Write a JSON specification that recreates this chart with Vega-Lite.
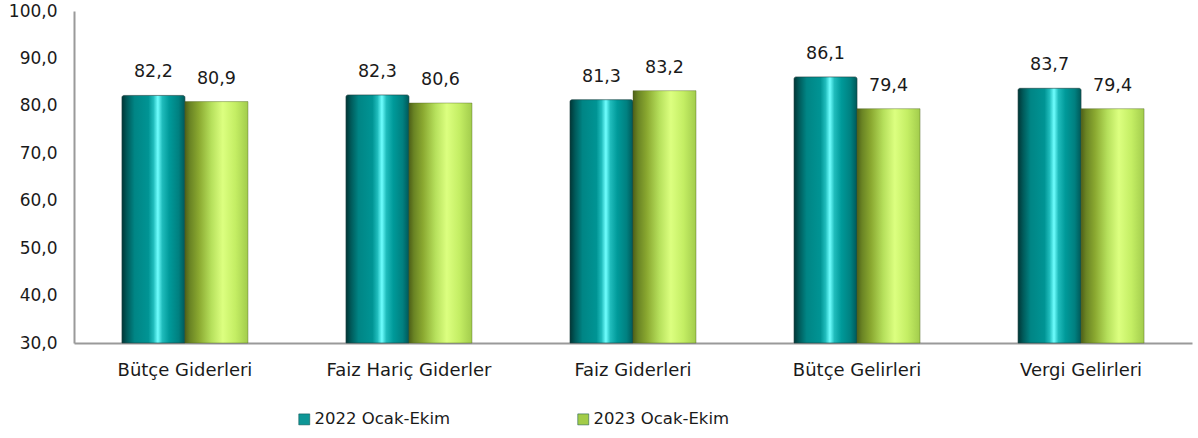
{
  "$schema": "https://vega.github.io/schema/vega-lite/v6.json",
  "autosize": {"type": "none"},
  "width": 1118,
  "height": 332,
  "padding": {"left": 74, "top": 11, "right": 6, "bottom": 95},
  "background": "white",
  "config": {
    "locale": {"number": {"decimal": ",", "thousands": ".", "grouping": [3], "currency": ["", " TL"]}},
    "view": {"stroke": null},
    "font": "DejaVu Sans",
    "text": {"font": "DejaVu Sans"}
  },
  "data": {
    "values": [
      {"kalem": "Bütçe Giderleri", "donem": "2022 Ocak-Ekim", "deger": 82.2},
      {"kalem": "Bütçe Giderleri", "donem": "2023 Ocak-Ekim", "deger": 80.9},
      {"kalem": "Faiz Hariç Giderler", "donem": "2022 Ocak-Ekim", "deger": 82.3},
      {"kalem": "Faiz Hariç Giderler", "donem": "2023 Ocak-Ekim", "deger": 80.6},
      {"kalem": "Faiz Giderleri", "donem": "2022 Ocak-Ekim", "deger": 81.3},
      {"kalem": "Faiz Giderleri", "donem": "2023 Ocak-Ekim", "deger": 83.2},
      {"kalem": "Bütçe Gelirleri", "donem": "2022 Ocak-Ekim", "deger": 86.1},
      {"kalem": "Bütçe Gelirleri", "donem": "2023 Ocak-Ekim", "deger": 79.4},
      {"kalem": "Vergi Gelirleri", "donem": "2022 Ocak-Ekim", "deger": 83.7},
      {"kalem": "Vergi Gelirleri", "donem": "2023 Ocak-Ekim", "deger": 79.4}
    ]
  },
  "encoding": {
    "x": {
      "field": "kalem", "type": "nominal", "sort": null,
      "scale": {"paddingInner": 0.4375, "paddingOuter": 0.214},
      "axis": {
        "title": null, "labelAngle": 0, "ticks": false, "domainColor": "#9a9a9a", "domainWidth": 2,
        "labelFont": "DejaVu Sans", "labelFontSize": 18, "labelColor": "#1a1a1a", "labelPadding": 18
      }
    },
    "xOffset": {"field": "donem", "type": "nominal", "scale": {"paddingInner": 0, "paddingOuter": 0}},
    "y": {
      "field": "deger", "type": "quantitative",
      "scale": {"domain": [30, 100], "nice": false, "zero": false},
      "axis": {
        "title": null, "values": [30, 40, 50, 60, 70, 80, 90, 100], "format": ".1f", "grid": false,
        "ticks": false, "domainColor": "#9a9a9a", "domainWidth": 2,
        "labelFont": "DejaVu Sans", "labelFontSize": 17, "labelColor": "#1a1a1a", "labelPadding": 17
      }
    }
  },
  "layer": [
    {
      "mark": {"type": "bar", "opacity": 0},
      "encoding": {
        "y2": {"datum": 30},
        "color": {
          "field": "donem", "type": "nominal",
          "scale": {"range": ["#0e9696", "#a2cc48"]},
          "legend": {
            "title": null, "orient": "none", "legendX": 222, "legendY": 400, "direction": "horizontal",
            "columns": 2, "columnPadding": 124, "symbolType": "square", "symbolSize": 121, "symbolOpacity": 1,
            "symbolStrokeColor": "#0a4a4a", "symbolStrokeWidth": 0.5,
            "labelFont": "DejaVu Sans", "labelFontSize": 16.5, "labelColor": "#1a1a1a", "labelOffset": 2, "labelLimit": 300
          }
        }
      }
    },
    {
      "transform": [{"filter": "datum.donem === '2022 Ocak-Ekim'"}],
      "mark": {
        "type": "bar", "stroke": "#1f3f3f", "strokeWidth": 0.6, "cornerRadiusTopLeft": 2, "cornerRadiusTopRight": 2,
        "color": {
          "gradient": "linear", "x1": 0, "x2": 1, "y1": 0, "y2": 0,
          "stops": [
            {"offset": 0, "color": "#003636"},
            {"offset": 0.08, "color": "#005a5a"},
            {"offset": 0.2, "color": "#008585"},
            {"offset": 0.42, "color": "#009494"},
            {"offset": 0.5, "color": "#20bcbc"},
            {"offset": 0.57, "color": "#70ffff"},
            {"offset": 0.64, "color": "#20bcbc"},
            {"offset": 0.75, "color": "#009a9a"},
            {"offset": 0.9, "color": "#008080"},
            {"offset": 1, "color": "#005858"}
          ]
        }
      },
      "encoding": {"y2": {"datum": 30}}
    },
    {
      "transform": [{"filter": "datum.donem === '2023 Ocak-Ekim'"}],
      "mark": {
        "type": "bar", "stroke": "#4a5a20", "strokeWidth": 0.4,
        "color": {
          "gradient": "linear", "x1": 0, "x2": 1, "y1": 0, "y2": 0,
          "stops": [
            {"offset": 0, "color": "#4e6018"},
            {"offset": 0.08, "color": "#6a8424"},
            {"offset": 0.22, "color": "#8aa830"},
            {"offset": 0.42, "color": "#b6e05c"},
            {"offset": 0.6, "color": "#dcff80"},
            {"offset": 0.8, "color": "#c4ee64"},
            {"offset": 1, "color": "#a2cc4c"}
          ]
        }
      },
      "encoding": {"y2": {"datum": 30}}
    },
    {
      "mark": {"type": "text", "baseline": "bottom", "dy": -14, "font": "DejaVu Sans", "fontSize": 17.5, "color": "#1a1a1a"},
      "encoding": {
        "text": {"field": "deger", "type": "quantitative", "format": ".1f"}
      }
    }
  ]
}
